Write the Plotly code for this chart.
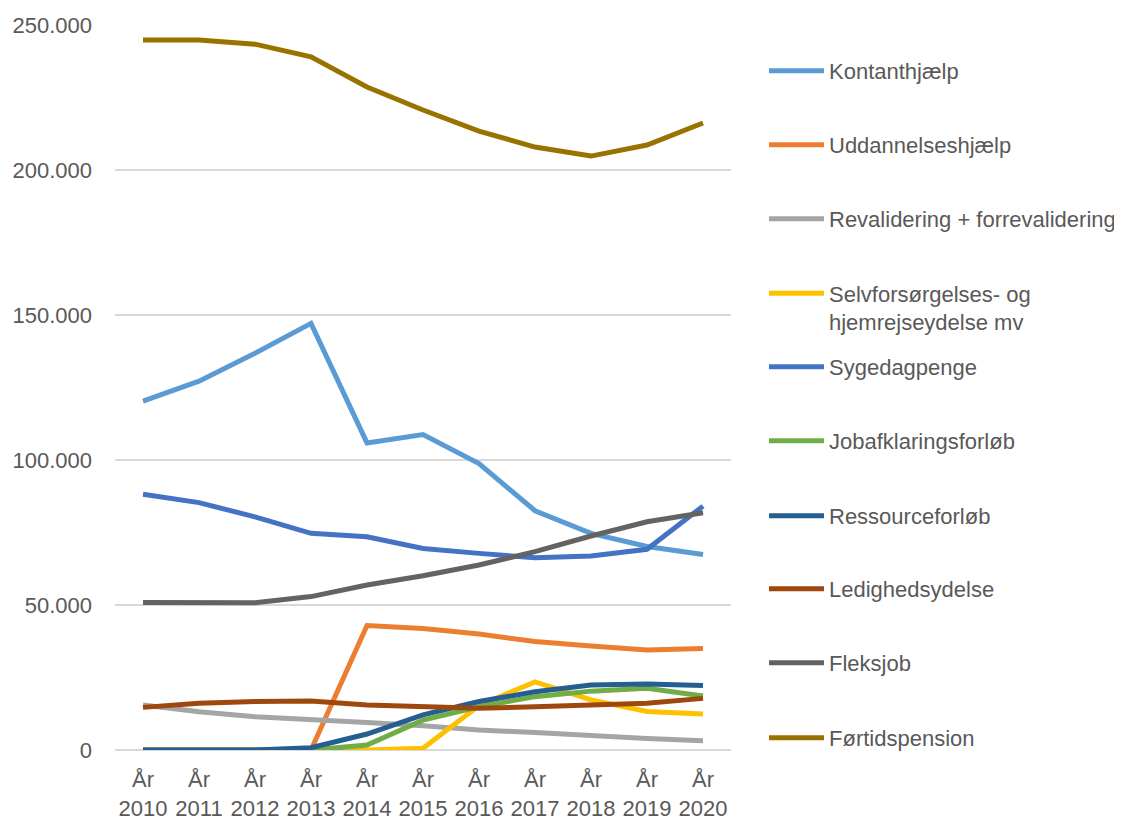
import plotly.graph_objects as go

years = ["År<br>2010", "År<br>2011", "År<br>2012", "År<br>2013", "År<br>2014", "År<br>2015",
         "År<br>2016", "År<br>2017", "År<br>2018", "År<br>2019", "År<br>2020"]

kontanthjaelp = [120300, 127200, 136800, 147100, 105900, 108800, 98800, 82500, 74700, 70200, 67400]
uddannelseshjaelp = [0, 0, 0, 0, 42900, 41900, 40000, 37400, 35900, 34500, 35000]
revalidering = [15500, 13200, 11500, 10300, 9500, 8400, 6900, 6000, 4900, 4000, 3200]
selvforsorgelse = [0, 0, 0, 0, 0, 600, 15300, 23500, 17300, 13300, 12400]
sygedagpenge = [88200, 85300, 80400, 74700, 73500, 69500, 67800, 66300, 66900, 69200, 84100]
jobafklaring = [0, 0, 0, 0, 1700, 10300, 14900, 18400, 20300, 21300, 18600]
ressourceforlob = [0, 0, 0, 800, 5500, 12100, 16700, 20100, 22400, 22800, 22200]
ledighedsydelse = [14700, 16100, 16700, 16900, 15500, 14900, 14400, 14900, 15300, 16100, 17800]
fleksjob = [50900, 50900, 50800, 52900, 56900, 60100, 63800, 68400, 73800, 78700, 81800]
fortidspension = [244800, 244800, 243400, 239000, 228600, 220700, 213400, 207900, 204800, 208600, 216200]

series_names = ["Kontanthjælp", "Uddannelseshjælp", "Revalidering + forrevalidering",
                "Selvforsørgelses- og<br>hjemrejseydelse mv", "Sygedagpenge", "Jobafklaringsforløb",
                "Ressourceforløb", "Ledighedsydelse", "Fleksjob", "Førtidspension"]
series_values = [kontanthjaelp, uddannelseshjaelp, revalidering, selvforsorgelse, sygedagpenge,
                 jobafklaring, ressourceforlob, ledighedsydelse, fleksjob, fortidspension]
colors = ["#5B9BD5", "#ED7D31", "#A5A5A5", "#FFC000", "#4472C4", "#70AD47",
          "#255E91", "#9E480E", "#636363", "#997300"]

# legend vertical centres in page pixels (layout only)
legend_px = [71, 145, 219, 308, 367, 441, 516, 589, 663, 738]

# The HTML body has an 8px margin; size the figure to fit the 1122x822 window
OFF = 8
W, H = 1122 - OFF, 822 - OFF
ml, mr, mt, mb = 115 - OFF, 391, 25 - OFF, 72
plot_h = H - mt - mb
plot_w = W - ml - mr

fig = go.Figure()
layout_legends = {}
for i, (name, vals, col) in enumerate(zip(series_names, series_values, colors)):
    lname = "legend" if i == 0 else f"legend{i+1}"
    fig.add_trace(go.Scatter(
        x=years, y=vals, name=name, mode="lines",
        line=dict(color=col, width=5),
        legend=lname,
    ))
    py = legend_px[i] - OFF
    layout_legends[lname] = dict(
        x=(764 - OFF - ml) / plot_w, xanchor="left",
        y=(H - mb - py) / plot_h, yanchor="middle",
        font=dict(size=22, color="#595959", family="Liberation Sans, Arial, sans-serif"),
        bgcolor="rgba(0,0,0,0)", borderwidth=0,
        valign="top", itemwidth=55,
    )

fig.update_layout(
    width=W, height=H,
    margin=dict(l=ml, r=mr, t=mt, b=mb, autoexpand=False),
    paper_bgcolor="white", plot_bgcolor="white",
    separators=",.",
    font=dict(family="Liberation Sans, Arial, sans-serif", size=22, color="#595959"),
    showlegend=True,
    **layout_legends,
)
fig.update_xaxes(
    type="category", range=[-0.5, 10.5], automargin=False,
    showgrid=False, showline=False, zeroline=False,
    ticks="", ticklabelstandoff=14, tickfont=dict(size=22, color="#595959"),
)
fig.update_yaxes(
    range=[0, 250000], tickvals=[0, 50000, 100000, 150000, 200000, 250000],
    tickformat=",d", showgrid=True, gridcolor="#D9D9D9", gridwidth=1.5,
    zeroline=True, zerolinecolor="#D9D9D9", zerolinewidth=1.5,
    showline=False, ticks="", ticklabelstandoff=22, automargin=False,
    tickfont=dict(size=22, color="#595959"),
)

fig.write_html("out.html")
